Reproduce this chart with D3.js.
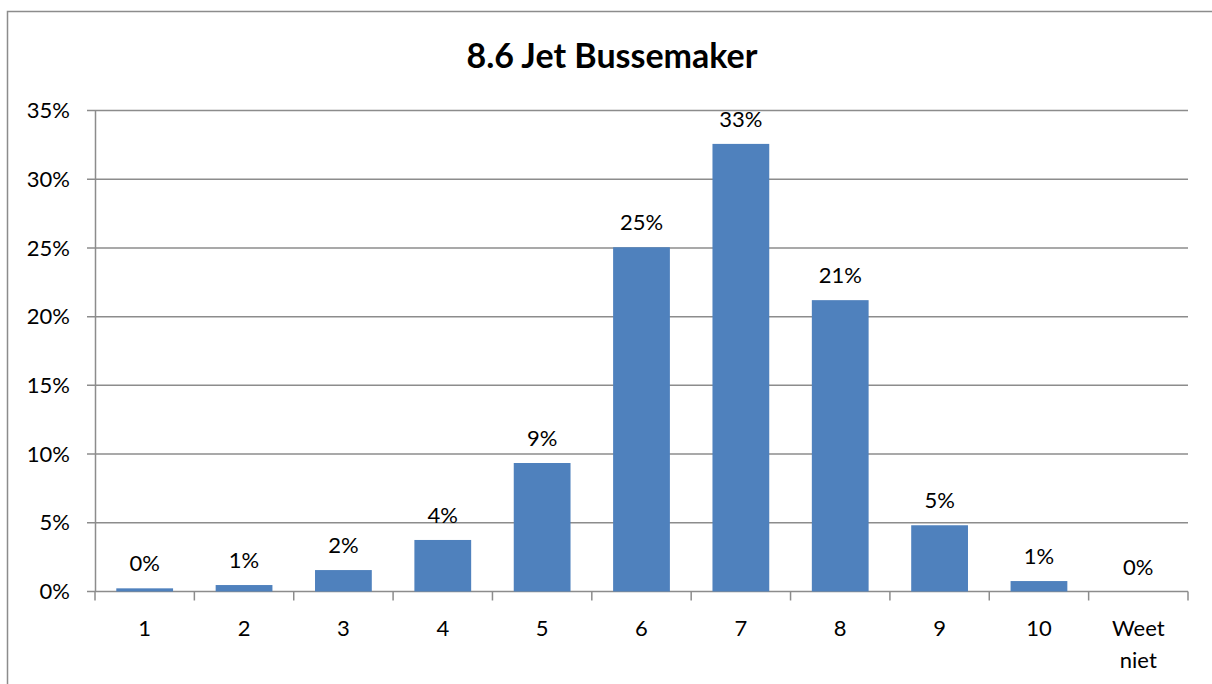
<!DOCTYPE html>
<html><head><meta charset="utf-8">
<script src="https://cdn.jsdelivr.net/npm/d3@7"></script>
<style>html,body{margin:0;padding:0;background:#fff;}svg{display:block;}</style>
</head><body>
<svg id="c" width="1212" height="684"></svg>
<script>
const title = "8.6 Jet Bussemaker";
const categories = ["1","2","3","4","5","6","7","8","9","10","Weet niet"];
const values = [0.23, 0.47, 1.56, 3.75, 9.35, 25.05, 32.57, 21.2, 4.82, 0.76, 0];
const labels = ["0%","1%","2%","4%","9%","25%","33%","21%","5%","1%","0%"];
const yTicks = [0,5,10,15,20,25,30,35];

const svg = d3.select("#c");
const font = "Lato, 'Open Sans', sans-serif";
const grid = "#8c8c8c";
const fs = 22;

// outer border
svg.append("path").attr("d","M7.5,690 V11.5 H1220").attr("fill","none").attr("stroke","#8c8c8c").attr("stroke-width",1.5);

svg.append("text").attr("x",612).attr("y",68).attr("text-anchor","middle")
  .attr("font-family",font).attr("font-weight","bold").attr("font-size",34).attr("fill","#000").text(title);

const x = d3.scaleBand().domain(categories).range([95,1188]).paddingInner(0.75/1.75).paddingOuter(0.75/3.5);
const y = d3.scaleLinear().domain([0,35]).range([591.5,110.5]);

// gridlines
svg.append("g").selectAll("line").data(yTicks).join("line")
  .attr("x1",87).attr("x2",1188).attr("y1",d=>y(d)).attr("y2",d=>y(d))
  .attr("stroke",grid).attr("stroke-width",1.5);
// y axis line
svg.append("line").attr("x1",95.5).attr("x2",95.5).attr("y1",y(35)).attr("y2",y(0)).attr("stroke",grid).attr("stroke-width",1.5);
// y labels
svg.append("g").selectAll("text").data(yTicks).join("text")
  .attr("x",70).attr("y",d=>y(d)).attr("dy","0.35em").attr("text-anchor","end")
  .attr("font-family",font).attr("font-size",fs).attr("fill","#000").text(d=>d+"%");

// x ticks
const bounds = d3.range(categories.length+1).map(i=>95+i*(1093/categories.length));
svg.append("g").selectAll("line").data(bounds).join("line")
  .attr("x1",d=>d).attr("x2",d=>d).attr("y1",y(0)).attr("y2",y(0)+9)
  .attr("stroke",grid).attr("stroke-width",1.5);

// bars
svg.append("g").selectAll("rect").data(values).join("rect")
  .attr("x",(d,i)=>x(categories[i])).attr("width",x.bandwidth())
  .attr("y",d=>y(d)).attr("height",d=>y(0)-y(d)).attr("fill","#4f81bd");

// data labels
svg.append("g").selectAll("text").data(values).join("text")
  .attr("x",(d,i)=>x(categories[i])+x.bandwidth()/2).attr("y",d=>y(d)-17)
  .attr("text-anchor","middle").attr("font-family",font).attr("font-size",fs).attr("fill","#000")
  .text((d,i)=>labels[i]);

// x labels
svg.append("g").selectAll("text").data(categories).join("text")
  .attr("x",d=>x(d)+x.bandwidth()/2).attr("y",636)
  .attr("text-anchor","middle").attr("font-family",font).attr("font-size",fs).attr("fill","#000")
  .each(function(d){
    const words=d.split(" ");
    const t=d3.select(this);
    words.forEach((w,k)=>t.append("tspan").attr("x",x(d)+x.bandwidth()/2).attr("dy",k?32:0).text(w));
  });
</script>
</body></html>
